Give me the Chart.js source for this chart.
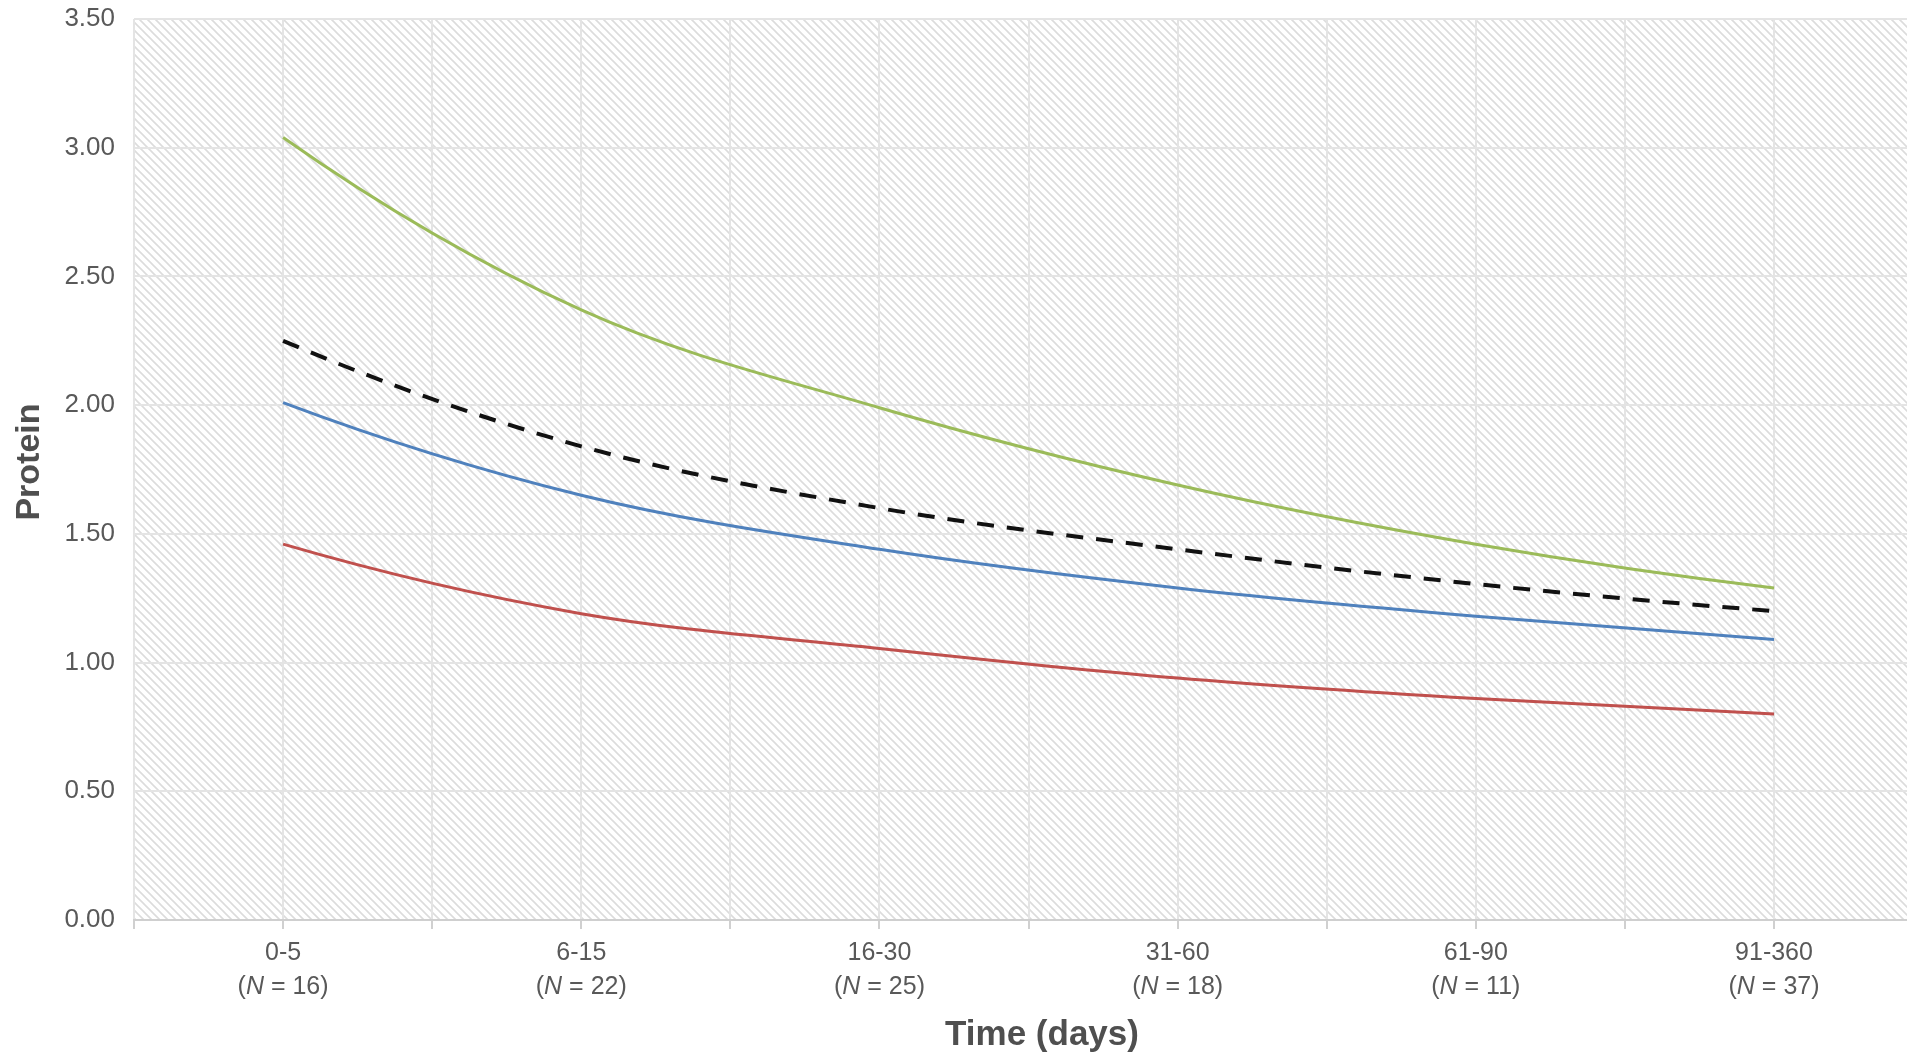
<!DOCTYPE html>
<html>
<head>
<meta charset="utf-8">
<script src="https://cdn.jsdelivr.net/npm/chart.js@4"></script>
<style>
  html, body { margin: 0; padding: 0; background: #ffffff; }
  #wrap { width: 1907px; height: 1059px; position: relative; }
</style>
</head>
<body>
<div id="wrap"><canvas id="c" width="1907" height="1059"></canvas></div>
<script>
// ---- data ----
const categories = ['0-5', '6-15', '16-30', '31-60', '61-90', '91-360'];
const sampleSizes = [16, 22, 25, 18, 11, 37];
const yTicks = [0, 0.5, 1.0, 1.5, 2.0, 2.5, 3.0, 3.5];
const greenSeries = [3.04, 2.37, 1.99, 1.69, 1.46, 1.29];
const dashedSeries = [2.25, 1.84, 1.60, 1.44, 1.305, 1.20];
const blueSeries = [2.01, 1.65, 1.44, 1.29, 1.18, 1.09];
const redSeries = [1.46, 1.19, 1.055, 0.94, 0.86, 0.80];
const yTitle = 'Protein';
const xTitle = 'Time (days)';

const FONT = "'Liberation Sans', Arial, Helvetica, sans-serif";
const TEXT = '#595959';

function toPoints(arr) { return arr.map((v, i) => ({ x: i, y: v })); }

// hatch pattern
function makePattern(ctx) {
  const p = 8;
  const c = document.createElement('canvas');
  c.width = p; c.height = p;
  const g = c.getContext('2d');
  g.fillStyle = '#ffffff';
  g.fillRect(0, 0, p, p);
  g.strokeStyle = '#dcdcdc';
  g.lineWidth = 1.6;
  g.beginPath();
  g.moveTo(-p, -p); g.lineTo(2 * p, 2 * p);
  g.moveTo(-2 * p, -p); g.lineTo(p, 2 * p);
  g.moveTo(0, -p); g.lineTo(3 * p, 2 * p);
  g.stroke();
  return ctx.createPattern(c, 'repeat');
}

const hatchPlugin = {
  id: 'hatch',
  beforeDraw(chart) {
    const { ctx, chartArea: a } = chart;
    ctx.save();
    ctx.fillStyle = makePattern(ctx);
    ctx.fillRect(a.left, a.top, a.right - a.left, a.bottom - a.top);
    ctx.restore();
  }
};

// smooth cubic Hermite control points (with curvature-preserving end tangents)
const smoothPlugin = {
  id: 'smoothCurves',
  beforeDatasetsDraw(chart) {
    chart.data.datasets.forEach((d, di) => {
      const meta = chart.getDatasetMeta(di);
      const pts = meta.data;
      const n = pts.length;
      if (n < 3) return;
      const m = new Array(n);
      for (let i = 1; i < n - 1; i++) {
        m[i] = (pts[i + 1].y - pts[i - 1].y) / (pts[i + 1].x - pts[i - 1].x);
      }
      m[0] = 2 * (pts[1].y - pts[0].y) / (pts[1].x - pts[0].x) - m[1];
      m[n - 1] = 2 * (pts[n - 1].y - pts[n - 2].y) / (pts[n - 1].x - pts[n - 2].x) - m[n - 2];
      for (let i = 0; i < n; i++) {
        const p = pts[i];
        const dp = i > 0 ? (p.x - pts[i - 1].x) / 3 : 0;
        const dn = i < n - 1 ? (pts[i + 1].x - p.x) / 3 : 0;
        p.cp1x = p.x - dp; p.cp1y = p.y - m[i] * dp;
        p.cp2x = p.x + dn; p.cp2y = p.y + m[i] * dn;
      }
      meta.dataset._pointsUpdated = true;
    });
  }
};

const labelsPlugin = {
  id: 'customLabels',
  afterDraw(chart) {
    const { ctx } = chart;
    const xs = chart.scales.x;
    ctx.save();
    ctx.fillStyle = TEXT;
    ctx.textBaseline = 'middle';
    const fs = 25;
    categories.forEach((cat, i) => {
      const x = xs.getPixelForValue(i);
      ctx.font = fs + 'px ' + FONT;
      ctx.textAlign = 'center';
      ctx.fillText(cat, x, 953);
      const parts = [
        { t: '(', f: fs + 'px ' + FONT },
        { t: 'N', f: 'italic ' + fs + 'px ' + FONT },
        { t: ' = ' + sampleSizes[i] + ')', f: fs + 'px ' + FONT }
      ];
      let total = 0;
      parts.forEach(pt => { ctx.font = pt.f; pt.w = ctx.measureText(pt.t).width; total += pt.w; });
      let cx = x - total / 2;
      ctx.textAlign = 'left';
      parts.forEach(pt => { ctx.font = pt.f; ctx.fillText(pt.t, cx, 987); cx += pt.w; });
    });
    ctx.fillStyle = '#4f4f4f';
    ctx.font = 'bold 35px ' + FONT;
    ctx.textAlign = 'center';
    ctx.fillText(xTitle, 1042, 1035);
    ctx.translate(30, 462);
    ctx.rotate(-Math.PI / 2);
    ctx.font = 'bold 34px ' + FONT;
    ctx.fillText(yTitle, 0, 0);
    ctx.restore();
  }
};

const ds = (data, color, width, dash) => ({
  data: toPoints(data),
  borderColor: color,
  borderWidth: width,
  borderDash: dash || [],
  pointRadius: 0,
  fill: false,
  tension: 0.4,
  borderCapStyle: 'butt'
});

new Chart(document.getElementById('c'), {
  type: 'line',
  data: {
    datasets: [
      ds(greenSeries, '#9bbb59', 3),
      ds(dashedSeries, '#111111', 4, [17, 13]),
      ds(blueSeries, '#4f81bd', 3),
      ds(redSeries, '#c0504d', 3)
    ]
  },
  options: {
    responsive: false,
    animation: false,
    devicePixelRatio: 1,
    layout: { padding: { top: 19, right: 0, bottom: 0, left: 0 } },
    plugins: { legend: { display: false }, tooltip: { enabled: false } },
    scales: {
      x: {
        type: 'linear',
        min: -0.5,
        max: 5.446,
        afterBuildTicks(scale) {
          const t = [];
          for (let v = -0.5; v <= 5.0001; v += 0.5) t.push({ value: v });
          scale.ticks = t;
        },
        afterFit(scale) { scale.height = 139; scale.paddingLeft = 0; scale.paddingRight = 0; },
        ticks: { display: false },
        grid: { color: '#e4e4e4', lineWidth: 2, drawTicks: true, tickLength: 9, tickColor: '#d0d0d0' },
        border: { display: true, color: '#cfcfcf', width: 2 }
      },
      y: {
        type: 'linear',
        min: 0,
        max: 3.5,
        afterBuildTicks(scale) { scale.ticks = yTicks.map(v => ({ value: v })); },
        afterFit(scale) { scale.width = 134; scale.paddingTop = 0; scale.paddingBottom = 0; },
        ticks: {
          padding: 19,
          color: TEXT,
          font: { family: FONT, size: 26 },
          callback: (v) => Number(v).toFixed(2)
        },
        grid: { color: '#e4e4e4', lineWidth: 2, drawTicks: false },
        border: { display: false }
      }
    }
  },
  plugins: [hatchPlugin, smoothPlugin, labelsPlugin]
});
</script>
</body>
</html>
